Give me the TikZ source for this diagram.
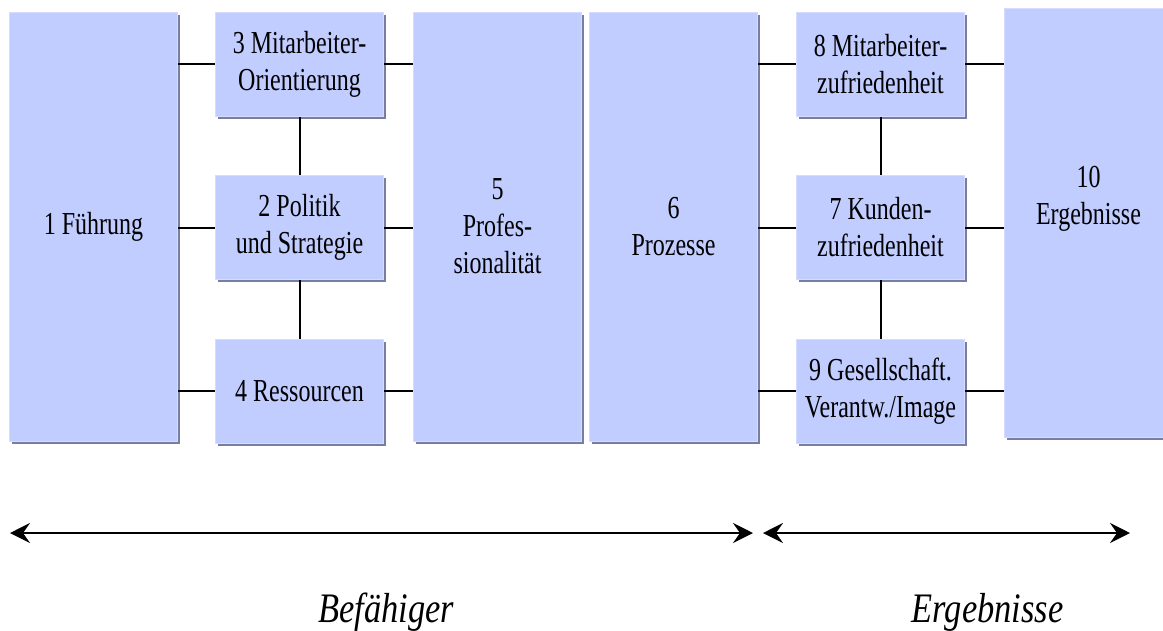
\documentclass[tikz,border=0pt]{standalone}
\usepackage{fontspec}
\setmainfont{Liberation Serif}
\newfontfamily\boxfont[FakeStretch=0.75]{Liberation Serif}
\newfontfamily\spanfont[FakeStretch=0.82]{Liberation Serif}
\usetikzlibrary{positioning,shadows,arrows.meta}
\definecolor{boxfill}{RGB}{193,204,255}
\definecolor{boxedge}{RGB}{214,220,255}
\definecolor{boxshade}{RGB}{120,126,160}

\begin{document}
\begin{tikzpicture}[x=1pt, y=-1pt, thick,
    box text/.style={align=center,font=\boxfont\fontsize{32}{37}\selectfont},
    box/.style={rectangle,fill=boxfill,draw=boxedge,line width=1pt,inner sep=0pt,box text,
      drop shadow={shadow xshift=2.5pt,shadow yshift=-2.5pt,fill=boxshade,opacity=1}},
    tall box/.style={box,minimum width=168pt,minimum height=429pt},
    small box/.style={box,minimum width=168pt,minimum height=104pt},
    link/.style={line width=2pt},
    span/.style={line width=2pt,{Stealth[length=20pt,width=20pt,inset=7pt]}-{Stealth[length=20pt,width=20pt,inset=7pt]}},
    span label/.style={anchor=base,font=\spanfont\itshape\fontsize{42}{48}\selectfont}]

  \useasboundingbox (0,0) rectangle (1163,630);

  \node[tall box] (1) at (93.5,226.5) {1 Führung};
  \node[small box] (3) [right=37pt of 1.north east, anchor=north west] {3 Mitarbeiter-\\Orientierung};
  \node[small box] (2) [below=58.5pt of 3] {2 Politik\\und Strategie};
  \node[small box] (4) [below=58.5pt of 2] {4 Ressourcen};
  \node[tall box] (5) [right=29pt of 3.north east, anchor=north west] {5\\Profes-\\sionalität};
  \node[tall box] (6) [right=7pt of 5] {6\\Prozesse};
  \node[small box] (8) [right=38pt of 6.north east, anchor=north west] {8 Mitarbeiter-\\zufriedenheit};
  \node[small box] (7) [below=58.5pt of 8] {7 Kunden-\\zufriedenheit};
  \node[small box] (9) [below=58.5pt of 7] {9 Gesellschaft.\\Verantw./Image};
  \node[tall box, label={[box text,yshift=24pt]center:{10\\Ergebnisse}}]
        (10) [right=39pt of 8.north east, anchor=north west, yshift=4pt] {};

  \path[link]
    (3.west -| 1.east) edge (3.west)
    (2.west -| 1.east) edge (2.west)
    (4.west -| 1.east) edge (4.west)
    (3.east) edge (3.east -| 5.west)
    (2.east) edge (2.east -| 5.west)
    (4.east) edge (4.east -| 5.west)
    (3) edge (2)
    (2) edge (4)

    (8.west -| 6.east) edge (8.west)
    (7.west -| 6.east) edge (7.west)
    (9.west -| 6.east) edge (9.west)
    (8.east) edge (8.east -| 10.west)
    (7.east) edge (7.east -| 10.west)
    (9.east) edge (9.east -| 10.west)
    (8) edge (7)
    (7) edge (9);

  \coordinate (befL) at (10,533);
  \coordinate (befR) at (753,533);
  \coordinate (ergL) at (763,533);
  \coordinate (ergR) at (1130,533);
  \draw[span] (befL) -- (befR);
  \draw[span] (ergL) -- (ergR);

  \node[span label] (bef) at (386,622) {Befähiger};
  \node[span label] (erg) at (987.5,622) {Ergebnisse};
\end{tikzpicture}
\end{document}
